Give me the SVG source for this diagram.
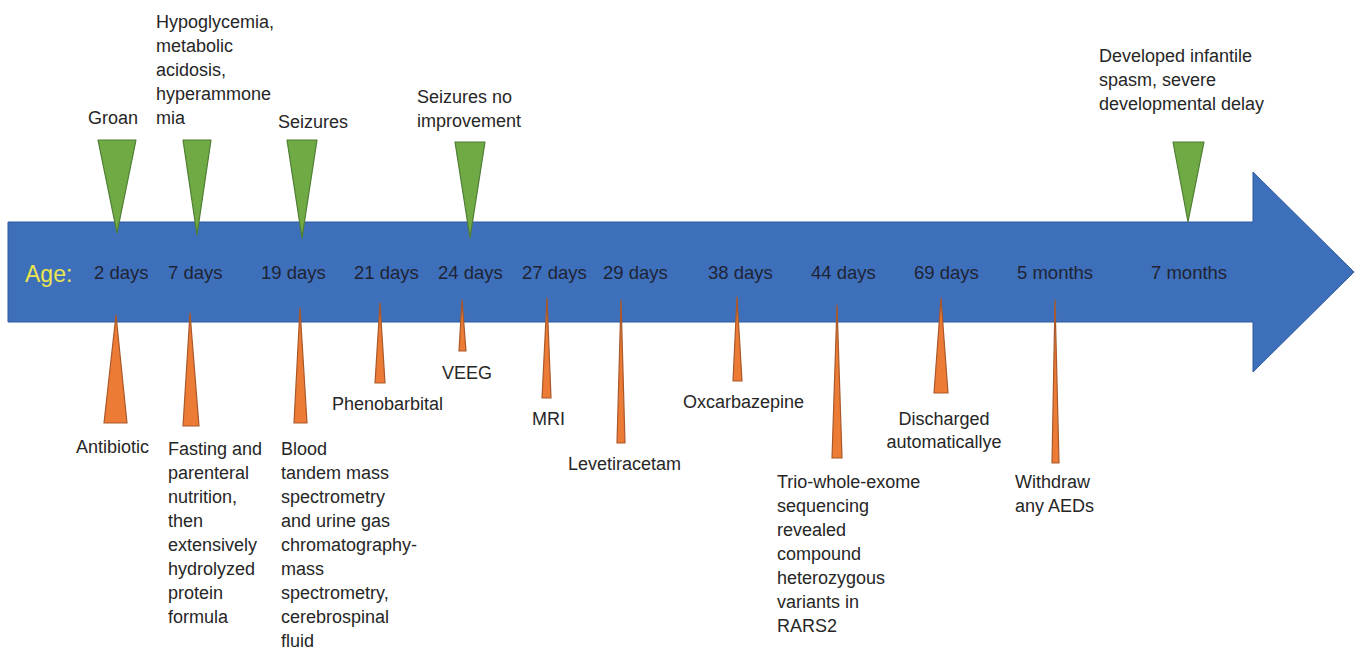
<svg xmlns="http://www.w3.org/2000/svg" width="1360" height="649" viewBox="0 0 1360 649">
<style>
.t{font-family:"Liberation Sans",Arial,sans-serif;font-size:18px;fill:#262626}
.d{font-family:"Liberation Sans",Arial,sans-serif;font-size:18.5px;fill:#1e2433}
.age{font-family:"Liberation Sans",Arial,sans-serif;font-size:23px;fill:#ECE64E}
.g{fill:#6FAA45;stroke:#4F7D33;stroke-width:1.2;stroke-linejoin:round}
.o{fill:#EC7B35;stroke:#A9582A;stroke-width:1.2;stroke-linejoin:round}
</style>
<rect width="1360" height="649" fill="#ffffff"/>
<g id="timeline">
<polygon points="8,222 1253,222 1253,172 1354,272 1253,372 1253,322 8,322" fill="#3E6FBB" stroke="#2F5A9E" stroke-width="1"/>
<text class="age" x="25" y="282">Age:</text>
<text class="d" x="94" y="279">2 days</text>
<text class="d" x="168" y="279">7 days</text>
<text class="d" x="261" y="279">19 days</text>
<text class="d" x="354" y="279">21 days</text>
<text class="d" x="438" y="279">24 days</text>
<text class="d" x="522" y="279">27 days</text>
<text class="d" x="603" y="279">29 days</text>
<text class="d" x="708" y="279">38 days</text>
<text class="d" x="811" y="279">44 days</text>
<text class="d" x="914" y="279">69 days</text>
<text class="d" x="1017" y="279">5 months</text>
<text class="d" x="1151" y="279">7 months</text>
</g>
<g id="connectors"></g>
<g id="ev-groan">
<polygon class="g" points="98,140 136,140 117,233"/>
<text class="t" x="88" y="124">Groan</text>
</g>
<g id="ev-hypoglycemia">
<polygon class="g" points="183,140 211,140 197,235"/>
<text class="t" x="156" y="28">Hypoglycemia,</text>
<text class="t" x="156" y="52">metabolic</text>
<text class="t" x="156" y="76">acidosis,</text>
<text class="t" x="156" y="100">hyperammone</text>
<text class="t" x="156" y="124">mia</text>
</g>
<g id="ev-seizures">
<polygon class="g" points="287,140 317,140 302,238"/>
<text class="t" x="278" y="128">Seizures</text>
</g>
<g id="ev-seizures-no-improvement">
<polygon class="g" points="455,142 485,142 470,238"/>
<text class="t" x="417" y="103">Seizures no</text>
<text class="t" x="417" y="127">improvement</text>
</g>
<g id="ev-developed">
<polygon class="g" points="1173,142 1204,142 1188,222"/>
<text class="t" x="1099" y="62">Developed infantile</text>
<text class="t" x="1099" y="86">spasm, severe</text>
<text class="t" x="1099" y="110">developmental delay</text>
</g>
<g id="tx-antibiotic">
<polygon class="o" points="116,315 127,423 104,423"/>
<text class="t" x="76" y="453">Antibiotic</text>
</g>
<g id="tx-fasting">
<polygon class="o" points="190,313 199,426 183,426"/>
<text class="t" x="168" y="455">Fasting and</text>
<text class="t" x="168" y="479">parenteral</text>
<text class="t" x="168" y="503">nutrition,</text>
<text class="t" x="168" y="527">then</text>
<text class="t" x="168" y="551">extensively</text>
<text class="t" x="168" y="575">hydrolyzed</text>
<text class="t" x="168" y="599">protein</text>
<text class="t" x="168" y="623">formula</text>
</g>
<g id="tx-blood">
<polygon class="o" points="300,308 307,423 294,423"/>
<text class="t" x="281" y="455">Blood</text>
<text class="t" x="281" y="479">tandem mass</text>
<text class="t" x="281" y="503">spectrometry</text>
<text class="t" x="281" y="527">and urine gas</text>
<text class="t" x="281" y="551">chromatography-</text>
<text class="t" x="281" y="575">mass</text>
<text class="t" x="281" y="599">spectrometry,</text>
<text class="t" x="281" y="623">cerebrospinal</text>
<text class="t" x="281" y="647">fluid</text>
</g>
<g id="tx-phenobarbital">
<polygon class="o" points="380,303 385,383 375,383"/>
<text class="t" x="332" y="410">Phenobarbital</text>
</g>
<g id="tx-veeg">
<polygon class="o" points="462,300 466,351 459,351"/>
<text class="t" x="442" y="379">VEEG</text>
</g>
<g id="tx-mri">
<polygon class="o" points="547,298 551,398 542,398"/>
<text class="t" x="532" y="425">MRI</text>
</g>
<g id="tx-levetiracetam">
<polygon class="o" points="621,300 625,443 617,443"/>
<text class="t" x="568" y="470">Levetiracetam</text>
</g>
<g id="tx-oxcarbazepine">
<polygon class="o" points="737,297 742,381 733,381"/>
<text class="t" x="683" y="408">Oxcarbazepine</text>
</g>
<g id="tx-trio">
<polygon class="o" points="837,305 842,458 832,458"/>
<text class="t" x="777" y="488">Trio-whole-exome</text>
<text class="t" x="777" y="512">sequencing</text>
<text class="t" x="777" y="536">revealed</text>
<text class="t" x="777" y="560">compound</text>
<text class="t" x="777" y="584">heterozygous</text>
<text class="t" x="777" y="608">variants in</text>
<text class="t" x="777" y="632">RARS2</text>
</g>
<g id="tx-discharged">
<polygon class="o" points="941,298 948,393 934,393"/>
<text class="t" x="944" y="425" text-anchor="middle">Discharged</text>
<text class="t" x="944" y="448" text-anchor="middle">automaticallye</text>
</g>
<g id="tx-withdraw">
<polygon class="o" points="1055,300 1059,463 1052,463"/>
<text class="t" x="1015" y="488">Withdraw</text>
<text class="t" x="1015" y="512">any AEDs</text>
</g>
</svg>
